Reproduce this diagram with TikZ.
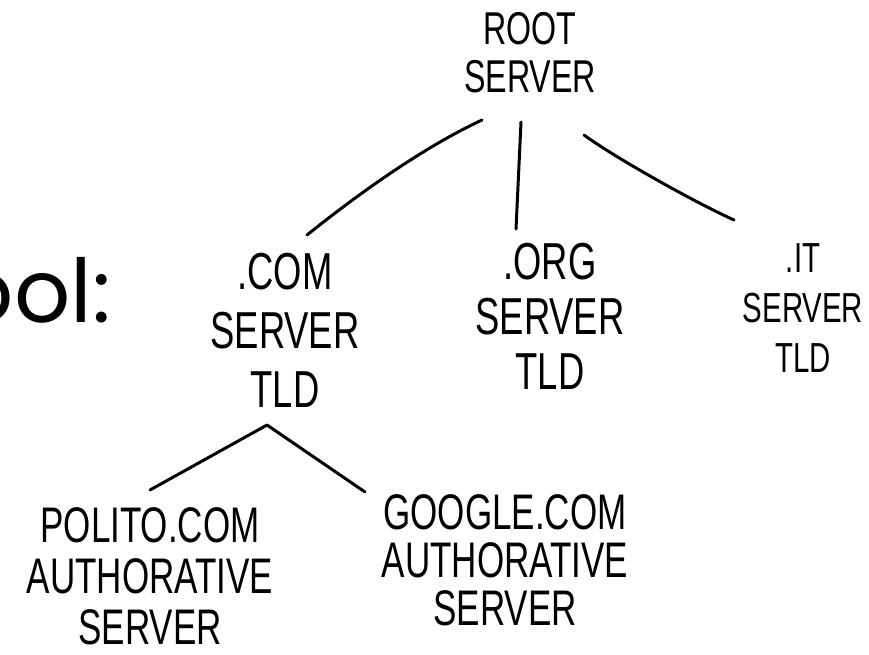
\documentclass[tikz,border=0pt]{standalone}
\usepackage{fontspec}
\usetikzlibrary{calc}
\newfontfamily\handfont[FakeStretch=0.7]{Liberation Sans}
\newfontfamily\slidefont{Poppins}
\newcommand\handsz[2]{\handfont\fontsize{#1}{#2}\selectfont}
\begin{document}
\begin{tikzpicture}[x=1pt,y=-1pt,
  label/.style={anchor=north,inner sep=0pt,align=center,text=black},
  link/.style={draw=black,line width=3pt,line cap=round,line join=round}]
\useasboundingbox (0,0) rectangle (869,655);
\fill[white] (0,0) rectangle (869,655);
\clip (0,0) rectangle (869,655);
% partial slide title
\node[anchor=base east,inner sep=0pt,font=\slidefont\fontsize{88}{88}\selectfont] (tool) at (111,322) {ool:};
% tree nodes
\node[label,font=\handsz{46}{48}] (root) at (530,12) {ROOT\\SERVER};
\node[label,font=\handsz{52}{59}] (com) at (285,253) {.COM\\SERVER\\TLD};
\node[label,font=\handsz{52}{55}] (org) at (550,243) {.ORG\\SERVER\\TLD};
\node[label,font=\handsz{42}{50}] (it) at (803,243) {.IT\\SERVER\\TLD};
\node[label,font=\handsz{50}{51}] (polito) at (150,507) {POLITO.COM\\AUTHORATIVE\\SERVER};
\node[label,font=\handsz{50}{48}] (google) at (505,494) {GOOGLE.COM\\AUTHORATIVE\\SERVER};
% connectors
\draw[link] ($(root.north)+(-48,108)$) .. controls +(-60,28) and +(50,-40) .. ($(com.north)+(22,-18)$);
\draw[link] ($(root.north)+(-9,110)$) -- ($(org.north)+(-34,-14)$);
\draw[link] ($(root.north)+(54,123)$) .. controls +(30,22) and +(-40,-18) .. ($(it.north)+(-69,-23)$);
\draw[link] ($(com.north)+(-18,172)$) -- ($(polito.north)+(0,-17)$);
\draw[link] ($(com.north)+(-18,172)$) -- ($(google.north)+(-140,-2)$);
\end{tikzpicture}
\end{document}
